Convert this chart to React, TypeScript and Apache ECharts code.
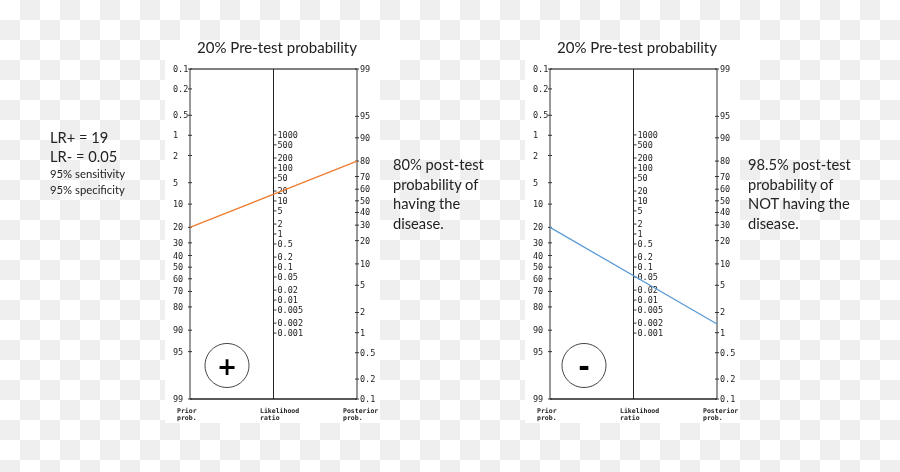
import React, { useEffect, useRef } from "react";
import * as echarts from "echarts";

// ---------- data ----------
const priorTicks = [0.1, 0.2, 0.5, 1, 2, 5, 10, 20, 30, 40, 50, 60, 70, 80, 90, 95, 99];
const lrTicks = [1000, 500, 200, 100, 50, 20, 10, 5, 2, 1, 0.5, 0.2, 0.1, 0.05, 0.02, 0.01, 0.005, 0.002, 0.001];
const postTicks = [99, 95, 90, 80, 70, 60, 50, 40, 30, 20, 10, 5, 2, 1, 0.5, 0.2, 0.1];
const panelTitles = ["20% Pre-test probability", "20% Pre-test probability"];
const priorProb = [20, 20];
const postProb = [80, 1.35];
const lineColors = ["#ED7D31", "#5B9BD5"];
const signs = ["+", "-"];
const axisNames = [["Prior", "prob."], ["Likelihood", "ratio"], ["Posterior", "prob."]];
const leftNotes = ["LR+ = 19", "LR- = 0.05", "95% sensitivity", "95% specificity"];
const rightNotes = [
  ["80% post-test", "probability of", "having the", "disease."],
  ["98.5% post-test", "probability of", "NOT having the", "disease."],
];

// ---------- scales ----------
const logit = (p: number) => Math.log(p / (100 - p));
const L0 = logit(0.1);
const L1 = logit(99);
const priorVal = (p: number) => logit(p);
const postVal = (p: number) => L0 + L1 - logit(p);
const lrVal = (r: number) => (L0 + L1) / 2 - Math.log(r) / 2;

const fmt = (v: number) => String(v);

const tickData: number[][] = [];
const tickLabels: string[] = [];
priorTicks.forEach((t) => { tickData.push([0, priorVal(t)]); tickLabels.push(fmt(t)); });
lrTicks.forEach((t) => { tickData.push([1, lrVal(t)]); tickLabels.push(fmt(t)); });
postTicks.forEach((t) => { tickData.push([2, postVal(t)]); tickLabels.push(fmt(t)); });

const MONO = "'DejaVu Sans Mono', monospace";
const SANS = "Lato, 'Open Sans', sans-serif";

export default function App() {
  const ref = useRef<HTMLDivElement>(null);
  useEffect(() => {
    if (!ref.current) return;
    document.body.style.margin = "0";
    const chart = echarts.init(ref.current, null, { renderer: "svg" });

    const grids = [0, 1].map((i) => ({ left: 190 + i * 360, top: 69, width: 167, height: 330 }));
    const xAxes = [0, 1].map((i) => ({ type: "value", gridIndex: i, min: 0, max: 2, show: false }));
    const yAxes = [0, 1].map((i) => ({ type: "value", gridIndex: i, min: L0, max: L1, inverse: true, show: false }));

    const series: any[] = [];
    [0, 1].forEach((gi) => {
      // frame
      series.push({
        type: "custom",
        xAxisIndex: gi,
        yAxisIndex: gi,
        data: [[0, L0]],
        z: 3,
        silent: true,
        renderItem: (params: any, api: any) => {
          const tl = api.coord([0, L0]);
          const bl = api.coord([0, L1]);
          const tm = api.coord([1, L0]);
          const bm = api.coord([1, L1]);
          const tr = api.coord([2, L0]);
          const br = api.coord([2, L1]);
          return {
            type: "group",
            children: [
              { type: "line", shape: { x1: tl[0], y1: tl[1], x2: tr[0], y2: tr[1] }, style: { stroke: "#7f7f7f", lineWidth: 2 } },
              { type: "line", shape: { x1: bl[0], y1: bl[1], x2: br[0], y2: br[1] }, style: { stroke: "#222", lineWidth: 1.5 } },
              { type: "line", shape: { x1: tl[0], y1: tl[1], x2: bl[0], y2: bl[1] }, style: { stroke: "#333", lineWidth: 1 } },
              { type: "line", shape: { x1: tm[0], y1: tm[1], x2: bm[0], y2: bm[1] }, style: { stroke: "#222", lineWidth: 1 } },
              { type: "line", shape: { x1: tr[0], y1: tr[1], x2: br[0], y2: br[1] }, style: { stroke: "#333", lineWidth: 1 } },
            ],
          };
        },
      });
      // ticks and labels
      series.push({
        type: "custom",
        xAxisIndex: gi,
        yAxisIndex: gi,
        data: tickData,
        z: 4,
        silent: true,
        renderItem: (params: any, api: any) => {
          const a = api.value(0);
          const pt = api.coord([a, api.value(1)]);
          const label = tickLabels[params.dataIndex];
          let x1 = pt[0] - 2, x2 = pt[0] + 2, tx = pt[0] + 3;
          if (a === 0) { tx = pt[0] - 17; }
          if (a === 1) { x1 = pt[0]; x2 = pt[0] + 3; tx = pt[0] + 4; }
          return {
            type: "group",
            children: [
              { type: "line", shape: { x1, y1: pt[1], x2, y2: pt[1] }, style: { stroke: "#333", lineWidth: 1 } },
              {
                type: "text",
                style: {
                  text: label, x: tx, y: pt[1], align: "left", verticalAlign: "middle",
                  fontFamily: MONO, fontSize: 8.5, fill: "#222",
                },
              },
            ],
          };
        },
      });
      // the patient's line
      series.push({
        type: "line",
        xAxisIndex: gi,
        yAxisIndex: gi,
        z: 5,
        symbol: "none",
        silent: true,
        lineStyle: { color: lineColors[gi], width: 1.3 },
        data: [[0, priorVal(priorProb[gi])], [2, postVal(postProb[gi])]],
      });
    });

    const graphic: any[] = [];
    [0, 1].forEach((i) => {
      const dx = i * 360;
      graphic.push({ type: "rect", z: 0, shape: { x: 160 + dx, y: 40, width: 240, height: 20 }, style: { fill: "#fff" } });
      graphic.push({ type: "rect", z: 0, shape: { x: 165 + dx, y: 60, width: 215, height: 363 }, style: { fill: "#fff" } });
      graphic.push({
        type: "text", z: 10, x: 277 + dx, y: 47,
        style: { text: panelTitles[i], align: "center", verticalAlign: "middle", fontFamily: SANS, fontSize: 15, fill: "#222" },
      });
      const cx = i ? 584 : 227;
      graphic.push({ type: "circle", z: 10, shape: { cx, cy: 365.5, r: 22 }, style: { fill: "none", stroke: "#444", lineWidth: 1 } });
      graphic.push({
        type: "text", z: 10, x: cx, y: i ? 366 : 367,
        style: { text: signs[i], align: "center", verticalAlign: "middle", fontFamily: "'DejaVu Sans', sans-serif", fontWeight: "bold", fontSize: i ? 28 : 24, fill: "#000" },
      });
      const ax = [177, 260, 343];
      axisNames.forEach((n, k) => {
        n.forEach((line, j) => {
          graphic.push({
            type: "text", z: 10, x: ax[k] + dx, y: 407.5 + j * 6.5,
            style: { text: line, align: "left", verticalAlign: "top", fontFamily: MONO, fontSize: 6.5, fontWeight: "bold", fill: "#222" },
          });
        });
      });
      rightNotes[i].forEach((t, k) => {
        graphic.push({
          type: "text", z: 10, x: (i ? 748 : 393), y: 164 + k * 19.5,
          style: { text: t, align: "left", verticalAlign: "middle", fontFamily: SANS, fontSize: 14.7, fill: "#222" },
        });
      });
    });
    const noteY = [137, 156, 173, 189];
    const noteSize = [14.7, 14.7, 11.3, 11.3];
    leftNotes.forEach((t, k) => {
      graphic.push({
        type: "text", z: 10, x: 50, y: noteY[k],
        style: { text: t, align: "left", verticalAlign: "middle", fontFamily: SANS, fontSize: noteSize[k], fill: "#222" },
      });
    });

    chart.setOption({
      animation: false,
      grid: grids,
      xAxis: xAxes,
      yAxis: yAxes,
      series,
      graphic,
    });
    return () => chart.dispose();
  }, []);

  return (
    <div
      ref={ref}
      style={{
        position: "fixed",
        left: 0,
        top: 0,
        width: 900,
        height: 472,
        background: "repeating-conic-gradient(#efefef 0 25%, #ffffff 0 50%) 0 0 / 40px 40px",
      }}
    />
  );
}
